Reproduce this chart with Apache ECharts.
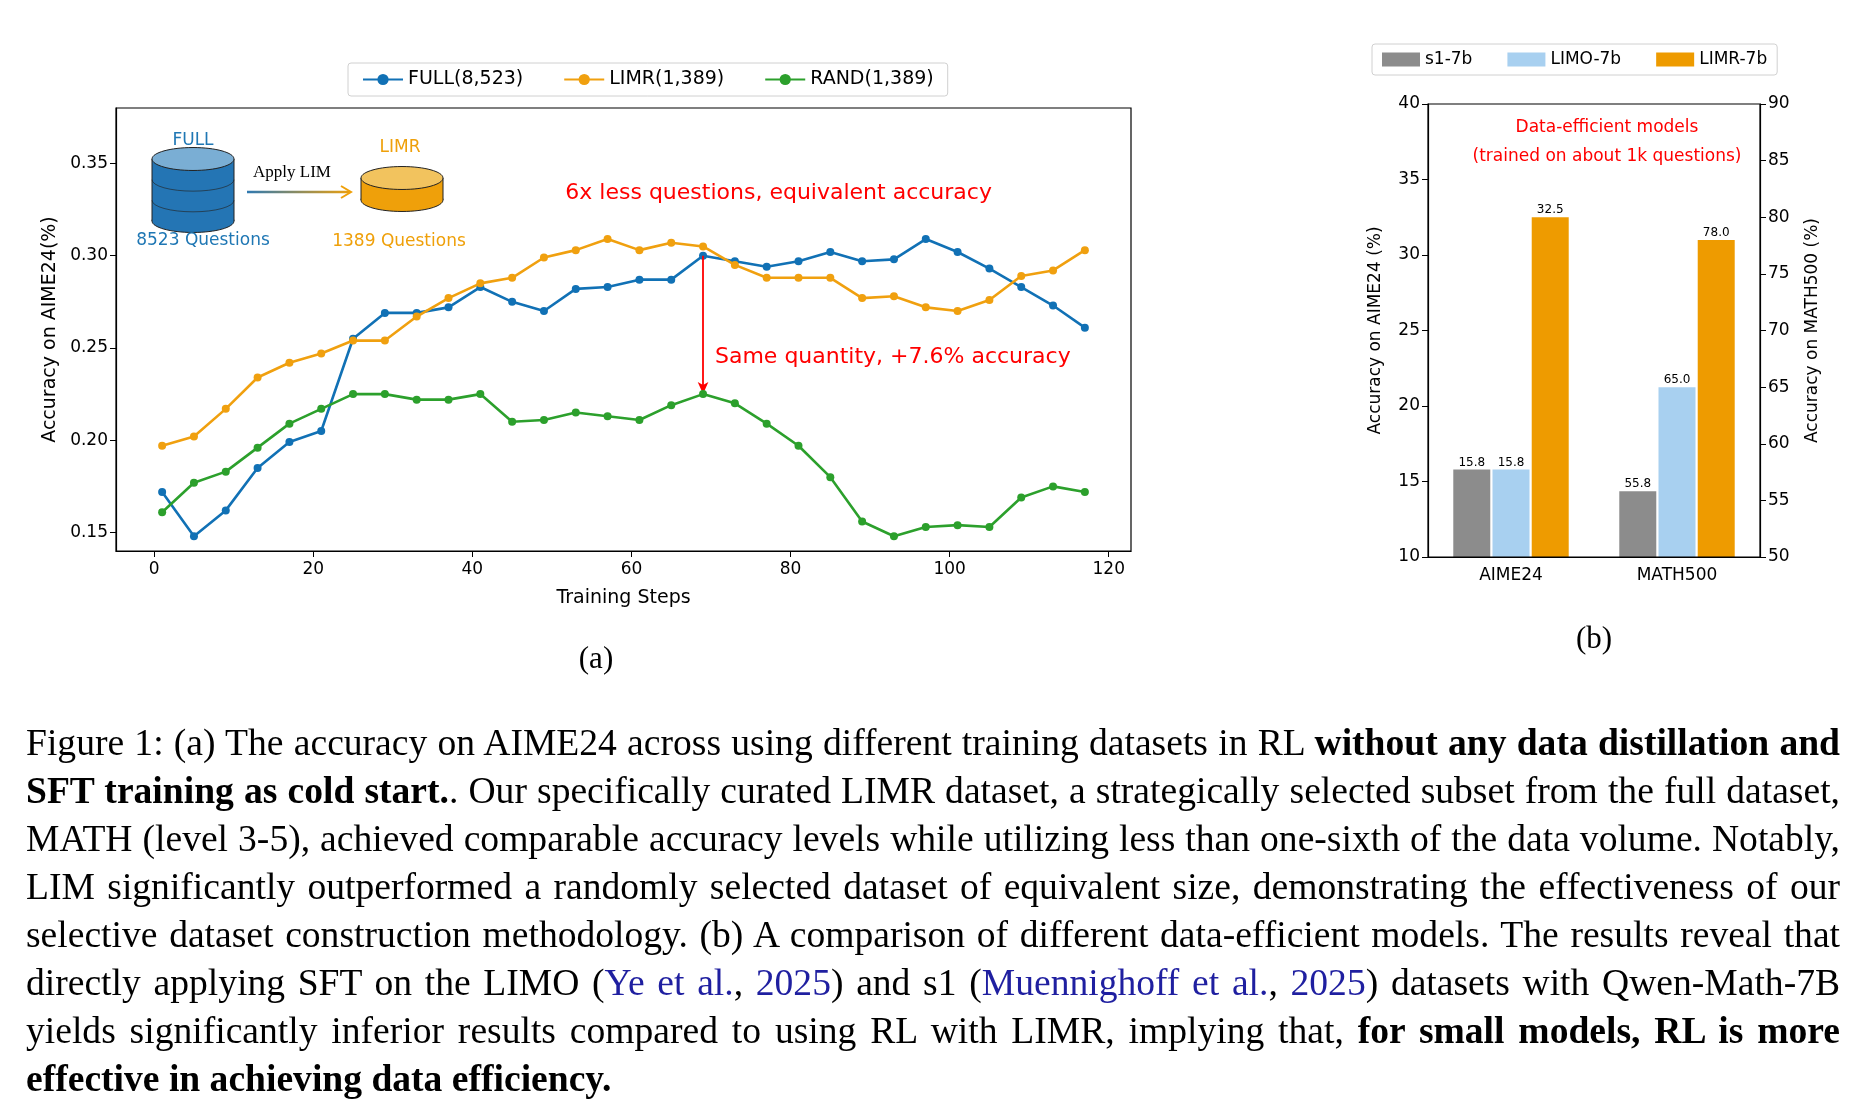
<!DOCTYPE html>
<html><head><meta charset="utf-8">
<script src="https://cdn.jsdelivr.net/npm/echarts@6/dist/echarts.min.js"></script>
<style>
html,body{margin:0;padding:0;background:#fff;}
#c{position:absolute;left:0;top:0;width:1860px;height:1102px;}
#cap{position:absolute;left:26px;top:719px;width:1814px;font-family:"Liberation Serif",serif;font-size:37.6px;line-height:48px;text-align:justify;color:#000;}
#cap a{color:#1f1fa0;text-decoration:none;}
</style></head><body>
<div id="c"></div>
<div id="cap">Figure 1: (a) The accuracy on AIME24 across using different training datasets in RL <b>without any data distillation and SFT training as cold start.</b>. Our specifically curated LIMR dataset, a strategically selected subset from the full dataset, MATH (level 3-5), achieved comparable accuracy levels while utilizing less than one-sixth of the data volume. Notably, LIM significantly outperformed a randomly selected dataset of equivalent size, demonstrating the effectiveness of our selective dataset construction methodology. (b) A comparison of different data-efficient models. The results reveal that directly applying SFT on the LIMO (<a>Ye et al.</a>, <a>2025</a>) and s1 (<a>Muennighoff et al.</a>, <a>2025</a>) datasets with Qwen-Math-7B yields significantly inferior results compared to using RL with LIMR, implying that, <b>for small models, RL is more effective in achieving data efficiency.</b></div>
<script>
const steps = [1,5,9,13,17,21,25,29,33,37,41,45,49,53,57,61,65,69,73,77,81,85,89,93,97,101,105,109,113,117];
const full = [0.172,0.148,0.162,0.185,0.199,0.205,0.255,0.269,0.269,0.272,0.283,0.275,0.270,0.282,0.283,0.287,0.287,0.300,0.297,0.294,0.297,0.302,0.297,0.298,0.309,0.302,0.293,0.283,0.273,0.261];
const limr = [0.197,0.202,0.217,0.234,0.242,0.247,0.254,0.254,0.267,0.277,0.285,0.288,0.299,0.303,0.309,0.303,0.307,0.305,0.295,0.288,0.288,0.288,0.277,0.278,0.272,0.270,0.276,0.289,0.292,0.303];
const rand = [0.161,0.177,0.183,0.196,0.209,0.217,0.225,0.225,0.222,0.222,0.225,0.210,0.211,0.215,0.213,0.211,0.219,0.225,0.220,0.209,0.197,0.180,0.156,0.148,0.153,0.154,0.153,0.169,0.175,0.172];
const lineNames = ['FULL(8,523)','LIMR(1,389)','RAND(1,389)'];
const barCats = ['AIME24','MATH500'];
const barModels = ['s1-7b','LIMO-7b','LIMR-7b'];
const aimeVals = [15.8,15.8,32.5];
const mathVals = [55.8,65.0,78.0];
const yTicksA = [0.15,0.20,0.25,0.30,0.35];
const xTicksA = [0,20,40,60,80,100,120];

const C = {blue:'#1171b5',orange:'#f0a00f',green:'#2ca02c'};
const barColors = ['#8c8c8c','#a8d0f0','#ee9b00'];
const F = 'DejaVu Sans';
const chart = echarts.init(document.getElementById('c'));
const pair = (xs,ys)=>xs.map((x,i)=>[x,ys[i]]);
const lineSeries = [full,limr,rand].map((d,i)=>({
  name:lineNames[i], type:'line', xAxisIndex:0, yAxisIndex:0, data:pair(steps,d),
  symbol:'circle', symbolSize:8, lineStyle:{width:2.6}, color:[C.blue,C.orange,C.green][i], z:3+i
}));
lineSeries[0].markLine = {silent:true, symbol:['none','arrow'], symbolSize:[8,12],
  lineStyle:{color:'#ff0000',width:1.8,type:'solid'}, label:{show:false},
  data:[[{coord:[69,full[17]]},{coord:[69,rand[17]]}]]};
const barSeries = [];
const lbl = {show:true,position:'top',distance:1,fontFamily:F,fontSize:12,color:'#000',formatter:p=>p.value.toFixed(1)};
barModels.forEach((m,i)=>{
  barSeries.push({name:m,type:'bar',xAxisIndex:1,yAxisIndex:1,data:[aimeVals[i],'-'],color:barColors[i],barWidth:37,barGap:'6%',label:lbl});
});
barModels.forEach((m,i)=>{
  barSeries.push({name:m,type:'bar',xAxisIndex:2,yAxisIndex:2,data:['-',mathVals[i]],color:barColors[i],barWidth:37,barGap:'6%',label:lbl});
});
const axl = {onZero:false,lineStyle:{color:'#000',width:1.2}};
const option = {
  animation:false,
  textStyle:{fontFamily:F},
  legend:[
    {id:'lgA', data:lineNames, left:'348px', top:'63px', itemWidth:40, itemHeight:14, itemGap:40, padding:[7,14],
     borderColor:'#d0d0d0', borderWidth:1, borderRadius:3, textStyle:{fontSize:19,fontFamily:F,color:'#000'}},
    {id:'lgB', data:barModels, left:'1372px', top:'44px', itemWidth:38, itemHeight:14, itemGap:35, padding:[7,10],
     borderColor:'#d0d0d0', borderWidth:1, borderRadius:3, textStyle:{fontSize:17,fontFamily:F,color:'#000'}, icon:'rect'}
  ],
  grid:[
    {left:116, top:108, width:1015, height:443},
    {left:1428, top:104, width:332, height:453},
    {left:1428, top:104, width:332, height:453}
  ],
  xAxis:[
    {type:'value', gridIndex:0, min:-4.8, max:122.8, name:'Training Steps', nameLocation:'middle', nameGap:38,
     nameTextStyle:{fontSize:19,color:'#000'}, axisLine:axl, splitLine:{show:false},
     axisTick:{customValues:xTicksA,length:6,lineStyle:{color:'#000'}}, axisLabel:{customValues:xTicksA,fontSize:17,color:'#000',margin:10}},
    {type:'category', gridIndex:1, data:barCats, axisLine:axl, axisTick:{alignWithLabel:true,length:6,lineStyle:{color:'#000'}},
     axisLabel:{fontSize:17,color:'#000',margin:10}},
    {type:'category', gridIndex:2, data:barCats, show:false}
  ],
  yAxis:[
    {type:'value', gridIndex:0, min:0.14, max:0.38, name:'Accuracy on AIME24(%)', nameLocation:'middle', nameGap:50,
     nameTextStyle:{fontSize:19,color:'#000'}, axisLine:{show:true,...axl}, splitLine:{show:false},
     axisTick:{show:true,customValues:yTicksA,length:6,lineStyle:{color:'#000'}},
     axisLabel:{customValues:yTicksA,fontSize:17,color:'#000',formatter:v=>v.toFixed(2)}},
    {type:'value', gridIndex:1, min:10, max:40, interval:5, name:'Accuracy on AIME24 (%)', nameLocation:'middle', nameGap:44,
     nameTextStyle:{fontSize:17,color:'#000'}, axisLine:{show:true,...axl}, splitLine:{show:false},
     axisTick:{show:true,length:6,lineStyle:{color:'#000'}}, axisLabel:{fontSize:17,color:'#000'}},
    {type:'value', gridIndex:2, position:'right', min:50, max:90, interval:5, name:'Accuracy on MATH500 (%)', nameLocation:'middle', nameGap:44,
     nameTextStyle:{fontSize:17,color:'#000'}, axisLine:{show:true,...axl}, splitLine:{show:false},
     axisTick:{show:true,length:6,lineStyle:{color:'#000'}}, axisLabel:{fontSize:17,color:'#000'}}
  ],
  series:[...lineSeries,...barSeries]
};
chart.setOption(option);
const p = (x,y)=>chart.convertToPixel({xAxisIndex:0,yAxisIndex:0},[x,y]);
const t1 = p(78.5,0.334), t2 = p(70.5,0.245);
const db = (cx,top,w,h,n,fill,topFill)=>{
  const els=[]; const ry=w*0.14;
  els.push({type:'rect',shape:{x:cx-w/2,y:top,width:w,height:h},style:{fill:fill},z:10});
  els.push({type:'ellipse',shape:{cx:cx,cy:top+h,rx:w/2,ry:ry},style:{fill:fill,stroke:'#222',lineWidth:1},z:9});
  els.push({type:'line',shape:{x1:cx-w/2,y1:top,x2:cx-w/2,y2:top+h},style:{stroke:'#222',lineWidth:1},z:11});
  els.push({type:'line',shape:{x1:cx+w/2,y1:top,x2:cx+w/2,y2:top+h},style:{stroke:'#222',lineWidth:1},z:11});
  for(let k=1;k<n;k++) els.push({type:'arc',style:{stroke:'#222',lineWidth:1,fill:null},z:12,
     shape:{cx:0,cy:0,r:w/2,startAngle:0,endAngle:Math.PI},x:cx,y:top+h*k/n,scaleY:ry/(w/2)});
  els.push({type:'ellipse',shape:{cx:cx,cy:top,rx:w/2,ry:ry},style:{fill:topFill,stroke:'#222',lineWidth:1},z:13});
  return els;
};
chart.setOption({graphic:[
  {type:'rect',shape:{x:116,y:108,width:1015,height:443},style:{fill:null,stroke:'#000',lineWidth:1.2},silent:true,z:20},
  {type:'rect',shape:{x:1428,y:104,width:332,height:453},style:{fill:null,stroke:'#000',lineWidth:1.2},silent:true,z:20},
  ...db(193,159,82,62,3,'#2475b4','#7aaed4'),
  ...db(402,178,82,22,1,'#efa00a','#f2c35e'),
  {type:'text',x:193,y:141,style:{text:'FULL',fill:'#1f77b4',fontSize:17,fontFamily:F,align:'center',verticalAlign:'middle'},z:15},
  {type:'text',x:203,y:241,style:{text:'8523 Questions',fill:'#1f77b4',fontSize:17,fontFamily:F,align:'center',verticalAlign:'middle'},z:15},
  {type:'text',x:292,y:173,style:{text:'Apply LIM',fill:'#000',fontSize:17,fontFamily:'Liberation Serif',align:'center',verticalAlign:'middle'},z:15},
  {type:'line',shape:{x1:247,y1:192,x2:350,y2:192},style:{lineWidth:2.5,stroke:new echarts.graphic.LinearGradient(0,0,1,0,[{offset:0,color:'#2a78b5'},{offset:1,color:'#efa00a'}])},z:15},
  {type:'polyline',shape:{points:[[341,186],[351,192],[341,198]]},style:{stroke:'#efa00a',lineWidth:2,fill:null},z:15},
  {type:'text',x:400,y:148,style:{text:'LIMR',fill:'#efa00a',fontSize:17,fontFamily:F,align:'center',verticalAlign:'middle'},z:15},
  {type:'text',x:399,y:242,style:{text:'1389 Questions',fill:'#efa00a',fontSize:17,fontFamily:F,align:'center',verticalAlign:'middle'},z:15},
  {type:'text',x:t1[0],y:t1[1],style:{text:'6x less questions, equivalent accuracy',fill:'#ff0000',fontSize:22,fontFamily:F,align:'center',verticalAlign:'middle'},z:15},
  {type:'text',x:t2[0],y:t2[1],style:{text:'Same quantity, +7.6% accuracy',fill:'#ff0000',fontSize:22,fontFamily:F,align:'left',verticalAlign:'middle'},z:15},
  {type:'text',x:1607,y:128,style:{text:'Data-efficient models',fill:'#ff0000',fontSize:17,fontFamily:F,align:'center',verticalAlign:'middle'},z:15},
  {type:'text',x:1607,y:157,style:{text:'(trained on about 1k questions)',fill:'#ff0000',fontSize:17,fontFamily:F,align:'center',verticalAlign:'middle'},z:15},
  {type:'text',x:596,y:660,style:{text:'(a)',fill:'#000',fontSize:31,fontFamily:'Liberation Serif',align:'center',verticalAlign:'middle'},z:15},
  {type:'text',x:1594,y:640,style:{text:'(b)',fill:'#000',fontSize:31,fontFamily:'Liberation Serif',align:'center',verticalAlign:'middle'},z:15}
]});
</script></body></html>
